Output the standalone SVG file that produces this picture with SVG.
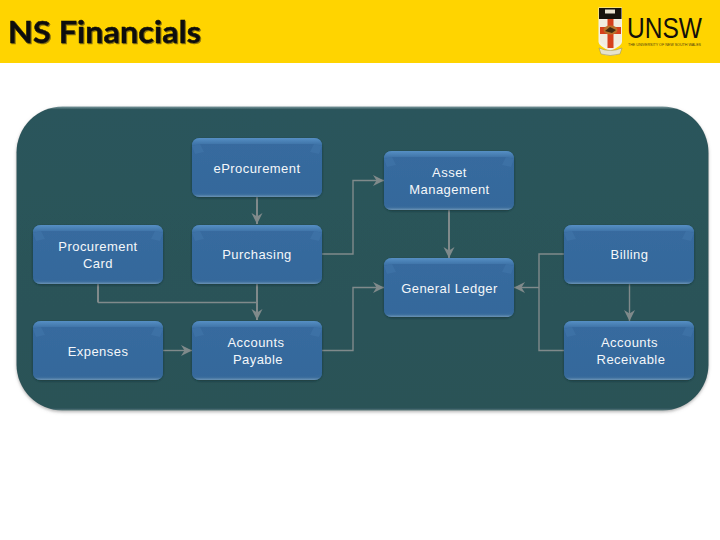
<svg xmlns="http://www.w3.org/2000/svg" width="720" height="540" viewBox="0 0 720 540">
<style>
.t{font-family:"Liberation Sans",Arial,sans-serif;font-size:13px;fill:#f4f7fa;text-anchor:middle;letter-spacing:.45px}
.c{fill:none;stroke:#808a8b;stroke-width:1.4}
.c2{fill:none;stroke:#808a8b;stroke-width:2}
</style>
<defs>
<linearGradient id="nf" x1="0" y1="0" x2="0" y2="1"><stop offset="0" stop-color="#376b9f"/><stop offset="1" stop-color="#35689b"/></linearGradient>
<linearGradient id="tb" x1="0" y1="0" x2="0" y2="1"><stop offset="0" stop-color="#568fc4"/><stop offset="1" stop-color="#396da1"/></linearGradient>
<linearGradient id="bb" x1="0" y1="0" x2="0" y2="1"><stop offset="0" stop-color="#35689b"/><stop offset=".6" stop-color="#386b9c"/><stop offset="1" stop-color="#6b93b4"/></linearGradient>
<linearGradient id="pn" x1="0" y1="0" x2="0" y2="1"><stop offset="0" stop-color="#7d9a9e"/><stop offset=".01" stop-color="#2c555b"/><stop offset=".992" stop-color="#2a5257"/><stop offset="1" stop-color="#5c7b7e"/></linearGradient>
<filter id="ns" x="-5%" y="-8%" width="110%" height="118%"><feDropShadow dx="0" dy="1" stdDeviation="1" flood-color="#142c30" flood-opacity=".65"/></filter>
<filter id="ps" x="-2%" y="-2%" width="104%" height="105%"><feDropShadow dx="0" dy="1.500" stdDeviation="1.500" flood-color="#666" flood-opacity=".5"/></filter>
<filter id="ts" x="-5%" y="-15%" width="110%" height="135%"><feDropShadow dx="1" dy="1" stdDeviation=".6" flood-color="#6b5a10" flood-opacity=".8"/></filter>
<marker id="a" markerUnits="userSpaceOnUse" markerWidth="12" markerHeight="12" refX="11" refY="6" orient="auto"><path d="M0 .5 L11 6 L0 11.500 L3.500 6Z" fill="#808a8b"/></marker>
<g id="n">
<rect width="130" height="59" rx="8" fill="url(#nf)" filter="url(#ns)"/>
<path d="M0 8Q0 0 8 0H122Q130 0 130 8L122 6H8Z" fill="url(#tb)"/>
<path d="M0 8L8 6L12 14L3 16Z" fill="#4177ac" opacity=".55"/>
<path d="M130 8L122 6L118 14L127 16Z" fill="#4177ac" opacity=".55"/>
<path d="M0 52L8 55H122L130 52Q130 59 122 59H8Q0 59 0 52Z" fill="url(#bb)"/>
</g>
</defs>
<rect width="720" height="63" fill="#ffd400"/>
<text x="8" y="43" font-family="Lato,'Open Sans',sans-serif" font-weight="700" font-size="31" fill="#0a0a0a" stroke="#0a0a0a" stroke-width=".5" textLength="193" lengthAdjust="spacingAndGlyphs" filter="url(#ts)">NS Financials</text>
<g id="logo">
<path d="M598.500 7.500H622V42Q622 46 610 51Q598.500 46 598.500 42Z" fill="#f6f1e4"/>
<rect x="599" y="8" width="22.500" height="11" fill="#17130c"/>
<rect x="605" y="9.500" width="10" height="4" fill="#e8e2cf"/>
<path d="M600 20H621V40Q621 44 610.500 48Q600 44 600 40Z" fill="#f1ece0"/>
<rect x="607.500" y="19" width="6" height="29" fill="#d5401d"/>
<rect x="600" y="27" width="21" height="7" fill="#d5401d"/>
<ellipse cx="610.500" cy="30" rx="7" ry="4.500" fill="#b9702a"/>
<path d="M605 31L610 27L616 30L612 33Z" fill="#3e2a12"/>
<path d="M599 48Q610 53 622 48L620 54Q610 57 601 54Z" fill="#e6e2cc" stroke="#8f8a5f" stroke-width=".5"/>
<text x="627" y="37.500" font-family="'Liberation Sans',sans-serif" font-size="30" fill="#14100a" textLength="75" lengthAdjust="spacingAndGlyphs">UNSW</text>
<text x="628" y="45.500" font-family="'Liberation Sans',sans-serif" font-size="3.600" fill="#4a3c10" textLength="73" lengthAdjust="spacingAndGlyphs">THE UNIVERSITY OF NEW SOUTH WALES</text>
</g>
<rect id="panel" x="16.500" y="106.500" width="692" height="304" rx="46" fill="url(#pn)" filter="url(#ps)"/>
<g id="connectors">
<path class="c2" d="M257 197V224" marker-end="url(#a)"/>
<path class="c2" d="M257 284V320" marker-end="url(#a)"/>
<path class="c2" d="M98 284V302.500"/>
<path class="c" d="M98 302.500H257"/>
<path class="c" d="M162 350.500H192" marker-end="url(#a)"/>
<path class="c" d="M322 254H353V180.500H384" marker-end="url(#a)"/>
<path class="c" d="M322 350.500H353V287.500H384" marker-end="url(#a)"/>
<path class="c2" d="M449 210V258" marker-end="url(#a)"/>
<path class="c" d="M564 254H539V350.500H564"/>
<path class="c" d="M539 287.500H514" marker-end="url(#a)"/>
<path class="c" d="M629.500 284V321" marker-end="url(#a)"/>
</g>
<g id="eprocurement"><use href="#n" x="192" y="138"/><text class="t" x="257" y="173">eProcurement</text></g>
<g id="purchasing"><use href="#n" x="192" y="225"/><text class="t" x="257" y="259">Purchasing</text></g>
<g id="procurement-card"><use href="#n" x="33" y="225"/><text class="t" x="98" y="251">Procurement</text><text class="t" x="98" y="268">Card</text></g>
<g id="expenses"><use href="#n" x="33" y="321"/><text class="t" x="98" y="356">Expenses</text></g>
<g id="accounts-payable"><use href="#n" x="192" y="321"/><text class="t" x="256" y="347">Accounts</text><text class="t" x="258" y="364">Payable</text></g>
<g id="asset-management"><use href="#n" x="384" y="151"/><text class="t" x="449.500" y="177">Asset</text><text class="t" x="449.500" y="194">Management</text></g>
<g id="general-ledger"><use href="#n" x="384" y="258"/><text class="t" x="449.500" y="293">General Ledger</text></g>
<g id="billing"><use href="#n" x="564" y="225"/><text class="t" x="629.500" y="259">Billing</text></g>
<g id="accounts-receivable"><use href="#n" x="564" y="321"/><text class="t" x="629.500" y="347">Accounts</text><text class="t" x="631" y="364">Receivable</text></g>
</svg>
